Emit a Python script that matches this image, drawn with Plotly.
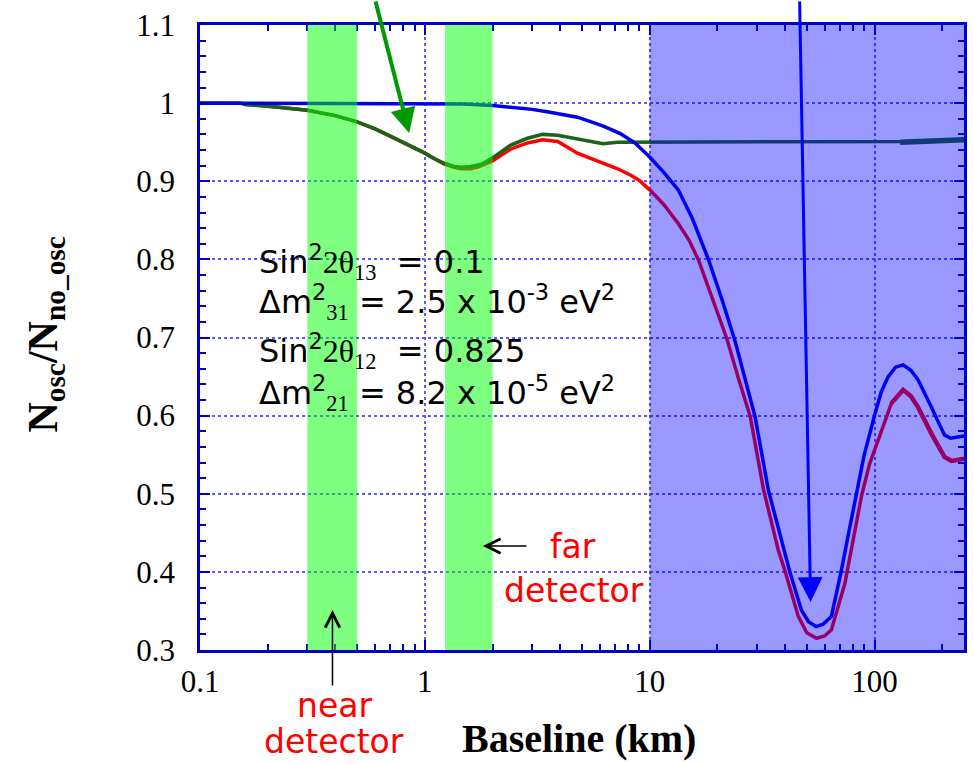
import plotly.graph_objects as go
import numpy as np

# ---------------- data ----------------
blue_x = [0.1, 0.2, 0.5, 1.0, 1.5, 2.0, 2.4, 3.0, 3.5, 4.0, 4.77, 5.5, 6.3, 7.4, 8.6, 10,
          11.5, 13.4, 15.5, 18.3, 21, 24, 26.5, 29.4, 33.7, 38, 42, 47.3, 51, 55, 59, 64.3,
          71, 77, 82.8, 90, 100, 107, 115, 124, 134, 145, 156, 168, 179, 192, 205, 218, 234, 250]
blue_y = [1.0, 1.0, 1.0, 1.0, 0.999, 0.997, 0.995, 0.992, 0.989, 0.986, 0.982, 0.976, 0.970, 0.961, 0.949, 0.931,
          0.912, 0.889, 0.852, 0.799, 0.748, 0.695, 0.646, 0.599, 0.505, 0.447, 0.400, 0.351, 0.336, 0.330, 0.333, 0.343,
          0.400, 0.452, 0.497, 0.550, 0.600, 0.630, 0.650, 0.662, 0.665, 0.658, 0.646, 0.628, 0.611, 0.592, 0.575, 0.571, 0.572, 0.574]

red_x = [0.1, 0.15, 0.2, 0.3, 0.4, 0.5, 0.6, 0.7, 0.88, 1.0, 1.1, 1.22, 1.35, 1.45, 1.6, 1.72, 2.0, 2.4, 2.86,
         3.34, 3.9, 4.77, 5.5, 6.27, 7.2, 8.2, 9.0, 10, 11.5, 13.4, 15, 16.5, 19, 22, 24.8, 28, 32.1, 37.3,
         40, 45.8, 50, 55.2, 60, 64.3, 73.8, 80, 87.5, 95, 103.8, 119, 134, 145, 156, 179, 205, 220, 234, 250]
red_y = [1.0, 1.0, 0.996, 0.991, 0.984, 0.976, 0.967, 0.958, 0.944, 0.936, 0.929, 0.922, 0.918, 0.916, 0.916, 0.918, 0.926, 0.941, 0.949,
         0.953, 0.951, 0.936, 0.929, 0.923, 0.916, 0.908, 0.901, 0.889, 0.871, 0.846, 0.824, 0.799, 0.750, 0.699, 0.648, 0.599, 0.505, 0.428,
         0.401, 0.343, 0.322, 0.315, 0.318, 0.326, 0.385, 0.440, 0.497, 0.538, 0.569, 0.616, 0.633, 0.625, 0.611, 0.577, 0.547, 0.542, 0.543, 0.545]

green_x = [0.1, 0.15, 0.16, 0.2, 0.22, 0.3, 0.4, 0.5, 0.6, 0.7, 0.88, 1.0, 1.1, 1.22, 1.35, 1.45, 1.6, 1.8, 2.0,
           2.4, 2.86, 3.34, 3.9, 4.77, 5.5, 6.2, 7.2, 8.0, 10, 20, 50, 100, 130, 150, 200, 250]
green_y = [1.0, 1.0, 0.998, 0.996, 0.995, 0.991, 0.984, 0.976, 0.967, 0.958, 0.944, 0.936, 0.929, 0.923, 0.919, 0.918, 0.919, 0.922, 0.930,
           0.946, 0.955, 0.960, 0.959, 0.954, 0.950, 0.948, 0.950, 0.950, 0.950, 0.950, 0.950, 0.950, 0.950, 0.951, 0.952, 0.953]

near_band = [0.3, 0.5]
far_band = [1.23, 2.0]
shade_band = [10, 250]

x_tickvals = [0.1, 1, 10, 100]
x_ticktext = ["0.1", "1", "10", "100"]
x_minor = [0.2, 0.3, 0.4, 0.5, 0.6, 0.7, 0.8, 0.9, 2, 3, 4, 5, 6, 7, 8, 9,
           20, 30, 40, 50, 60, 70, 80, 90, 200]
y_tickvals = [0.3, 0.4, 0.5, 0.6, 0.7, 0.8, 0.9, 1.0, 1.1]
y_ticktext = ["0.3", "0.4", "0.5", "0.6", "0.7", "0.8", "0.9", "1", "1.1"]

# ---------------- figure ----------------
W, H = 974, 764
L, R, T, B = 200, 7, 25, 114
PW, PH = W - L - R, H - T - B


def px(xp):
    return (xp - L) / PW


def py(yp):
    return (H - B - yp) / PH


fig = go.Figure()


def tail(xs, ys, start):
    pairs = [(a, b) for a, b in zip(xs, ys) if a >= start]
    return [p[0] for p in pairs], [p[1] for p in pairs]


fig.add_trace(go.Scatter(x=red_x, y=red_y, mode="lines",
                         line=dict(color="#ff0000", width=3.5), showlegend=False))
rx, ry = tail(red_x, red_y, 119)
fig.add_trace(go.Scatter(x=rx, y=ry, mode="lines",
                         line=dict(color="#ff0000", width=4.5), showlegend=False))
fig.add_trace(go.Scatter(x=green_x, y=green_y, mode="lines",
                         line=dict(color="#1a641a", width=3.5), showlegend=False))
gx, gy = tail(green_x, green_y, 130)
fig.add_trace(go.Scatter(x=gx, y=gy, mode="lines",
                         line=dict(color="#1a641a", width=5.5), showlegend=False))
fig.add_trace(go.Scatter(x=blue_x, y=blue_y, mode="lines",
                         line=dict(color="#0000ee", width=3.5), showlegend=False))

# translucent bands drawn over the curves
for band, col in [(near_band, "rgba(0,255,0,0.5)"), (far_band, "rgba(0,255,0,0.5)"),
                  (shade_band, "rgba(0,0,255,0.4)")]:
    fig.add_shape(type="rect", xref="x", yref="paper", x0=band[0], x1=band[1],
                  y0=0, y1=1.0, fillcolor=col, line=dict(width=0), layer="above")

axis_common = dict(showline=True, linecolor="#0000cc", linewidth=2.5, mirror="ticks",
                   ticks="inside", tickcolor="#0000cc", tickwidth=2, ticklen=10,
                   showgrid=True, gridcolor="#5a5aff", gridwidth=2, griddash="dot",
                   zeroline=False,
                   tickfont=dict(family="Liberation Serif", size=31, color="black"))

fig.update_xaxes(type="log", range=[-1, np.log10(250)], tickvals=x_tickvals, ticktext=x_ticktext,
                 minor=dict(tickvals=x_minor, ticks="inside", ticklen=6, tickcolor="#0000cc",
                            tickwidth=2, showgrid=False),
                 ticklabelstandoff=2, **axis_common)
fig.update_yaxes(range=[0.3, 1.1], tickvals=y_tickvals, ticktext=y_ticktext,
                 minor=dict(dtick=0.02, ticks="inside", ticklen=6, tickcolor="#0000cc",
                            tickwidth=2, showgrid=False),
                 ticklabelstandoff=16, **axis_common)

SANS = "DejaVu Sans"
SER = "Liberation Serif"

ann = []
# parameter text block
lines = [
    ("Sin<sup>2</sup><span style=\"font-family:Liberation Serif\">2θ<sub>13</sub></span>  = 0.1", 262),
    ("Δm<sup>2</sup><span style=\"font-family:Liberation Serif\"><sub>31</sub></span> = 2.5 x 10<sup>-3</sup> eV<sup>2</sup>", 302),
    ("Sin<sup>2</sup><span style=\"font-family:Liberation Serif\">2θ<sub>12</sub></span>  = 0.825", 351),
    ("Δm<sup>2</sup><span style=\"font-family:Liberation Serif\"><sub>21</sub></span> = 8.2 x 10<sup>-5</sup> eV<sup>2</sup>", 393),
]
for txt, yc in lines:
    ann.append(dict(text=txt, xref="paper", yref="paper", x=px(257), y=py(yc),
                    xanchor="left", yanchor="middle", showarrow=False,
                    font=dict(family=SANS, size=32, color="black")))

# red labels
for txt, xc, yc in [("far", 574, 546), ("detector", 575, 590), ("near", 335, 706), ("detector", 335, 741)]:
    ann.append(dict(text=txt, xref="paper", yref="paper", x=px(xc), y=py(yc),
                    xanchor="center", yanchor="middle", showarrow=False,
                    font=dict(family=SANS, size=33, color="#ff0000")))

# arrows
ann.append(dict(text="", xref="paper", yref="paper", x=px(410), y=py(133), ax=-34, ay=-133,
                showarrow=True, arrowhead=2, arrowwidth=4, arrowsize=1.25, arrowcolor="#009900"))
ann.append(dict(text="", xref="paper", yref="paper", x=px(813), y=py(602), ax=-11, ay=-602,
                showarrow=True, arrowhead=2, arrowwidth=3, arrowsize=1.65, arrowcolor="#0000ff"))
ann.append(dict(text="", xref="paper", yref="paper", x=px(484), y=py(546), ax=45, ay=0,
                showarrow=True, arrowhead=5, arrowwidth=1.5, arrowsize=1.9, arrowcolor="black"))
ann.append(dict(text="", xref="paper", yref="paper", x=px(333), y=py(610), ax=0, ay=77,
                showarrow=True, arrowhead=5, arrowwidth=1.5, arrowsize=1.9, arrowcolor="black"))

# axis titles
ann.append(dict(text="<b>Baseline (km)</b>", xref="paper", yref="paper", x=px(580), y=py(738),
                xanchor="center", yanchor="middle", showarrow=False,
                font=dict(family=SER, size=40, color="black")))
ann.append(dict(text="<b>N<sub>osc</sub>/N<sub>no_osc</sub></b>", xref="paper", yref="paper",
                x=px(45), y=py(335), xanchor="center", yanchor="middle", showarrow=False,
                textangle=-90, font=dict(family=SER, size=42, color="black")))

fig.update_layout(width=W, height=H, margin=dict(l=L, r=R, t=T, b=B),
                  paper_bgcolor="white", plot_bgcolor="white", annotations=ann,
                  showlegend=False)

fig.write_html("out.html")
